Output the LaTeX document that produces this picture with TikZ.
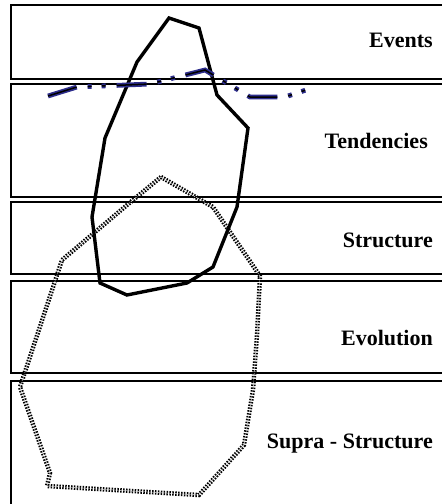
\documentclass[tikz,border=0pt]{standalone}
\usepackage{fontspec}
\setmainfont{Liberation Serif}
\begin{document}
\begin{tikzpicture}[x=1pt,y=-1pt,
  band/.style={draw=black,line width=2pt,fill=white},
  lbl/.style={anchor=base east,inner sep=0pt,font=\bfseries\fontsize{22}{24}\selectfont},
  solidpoly/.style={draw=black,line width=3.4pt,line join=miter},
  dotpoly/.style={draw=black,line width=2pt,double=white,double distance=0.4pt,dash pattern=on 1.5pt off 1.4pt},
  dashouter/.style={draw={rgb,255:red,45;green,45;blue,140},line width=4.8pt,dash pattern=on 30pt off 11pt on 4pt off 10pt on 4pt off 11pt},
  dashinner/.style={draw=black,line width=1.5pt,dash pattern=on 30pt off 11pt on 4pt off 10pt on 4pt off 11pt}]
\clip (0,0) rectangle (442,504);
\fill[white] (0,0) rectangle (442,504);
% bands
\draw[band] (11,5) rectangle (460,79);
\draw[band] (11,84) rectangle (460,197);
\draw[band] (11,202) rectangle (460,274);
\draw[band] (11,281) rectangle (460,373);
\draw[band] (11,381) rectangle (460,520);
% labels
\node[lbl] (ev) at (433,47) {Events};
\node[lbl] (te) at (428,148) {Tendencies};
\node[lbl] (st) at (433,247) {Structure};
\node[lbl] (evo) at (433,345) {Evolution};
\node[lbl] (su) at (433,448) {Supra - Structure};
% dotted polygon
\draw[dotpoly] (161,177) -- (213,207) -- (260,276) -- (257,335) -- (253,390) -- (244,445) -- (199,495) -- (47,486) -- (50,473) -- (20,387) -- (62,260) -- (133,200) -- cycle;
% solid polygon
\draw[solidpoly] (169,18) -- (199,28) -- (217,95) -- (248,128) -- (237,207) -- (213,267) -- (187,283) -- (127,295) -- (100,283) -- (92,217) -- (105,138) -- (137,62) -- cycle;
% dash-dot line
\draw[dashouter] (48,96) -- (77,87) -- (150,84) -- (205,70) -- (250,97) -- (285,97) -- (312,88);
\draw[dashinner] (48,96) -- (77,87) -- (150,84) -- (205,70) -- (250,97) -- (285,97) -- (312,88);
\end{tikzpicture}
\end{document}
